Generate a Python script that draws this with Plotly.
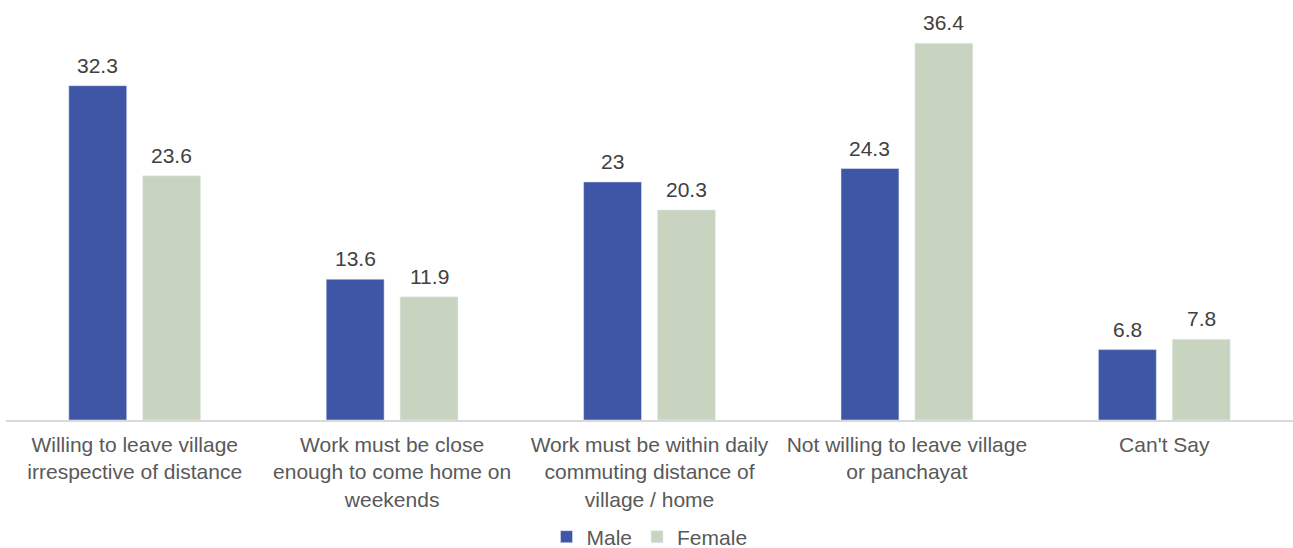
import plotly.graph_objects as go

categories = [
    "Willing to leave village<br>irrespective of distance",
    "Work must be close<br>enough to come home on<br>weekends",
    "Work must be within daily<br>commuting distance of<br>village / home",
    "Not willing to leave village<br>or panchayat",
    "Can't Say",
]
male = [32.3, 13.6, 23, 24.3, 6.8]
female = [23.6, 11.9, 20.3, 36.4, 7.8]

MALE_COLOR = "#3F55A5"
FEMALE_COLOR = "#C9D4C0"
FONT = "Liberation Sans, Arial, sans-serif"
LABEL_SIZE = 21

fig = go.Figure()
fig.add_trace(go.Bar(name="Male", x=categories, y=male, marker_color=MALE_COLOR))
fig.add_trace(go.Bar(name="Female", x=categories, y=female, marker_color=FEMALE_COLOR))

# value labels above each bar, offset to the bar's slot within its group
for values, shift in ((male, -37), (female, 37)):
    for cat, v in zip(categories, values):
        fig.add_annotation(
            x=cat, y=v, text=f"{v:g}", showarrow=False,
            xshift=shift, yshift=7, yanchor="bottom",
            font=dict(color="#404040", size=LABEL_SIZE, family=FONT),
        )

fig.update_layout(
    width=1293, height=548,
    margin=dict(l=6, r=0, t=6, b=128, autoexpand=False),
    paper_bgcolor="white", plot_bgcolor="white",
    barmode="group", bargap=0.426, bargroupgap=0.216,
    font=dict(family=FONT, size=LABEL_SIZE, color="#595959"),
    showlegend=True,
    legend=dict(orientation="h", x=0.5, xanchor="center",
                yref="container", y=0.02, yanchor="middle",
                font=dict(size=LABEL_SIZE, color="#595959"), itemwidth=30),
    xaxis=dict(showline=True, linecolor="#D9D9D9", linewidth=1.5, ticks="",
               automargin=False, ticklabelstandoff=5,
               tickfont=dict(size=LABEL_SIZE, color="#595959")),
    yaxis=dict(range=[0, 40], visible=False, showgrid=False, automargin=False),
)

fig.write_html("out.html")
